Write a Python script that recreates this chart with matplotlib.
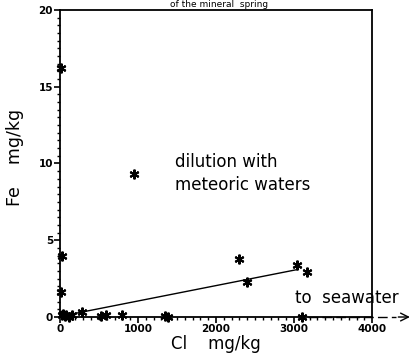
import numpy as np
import matplotlib.pyplot as plt
from matplotlib.ticker import MultipleLocator

# Cl (mg/kg) and Fe (mg/kg) samples
cl = [10, 30, 15, 950, 2300, 3040, 3170, 2400,
      25, 45, 60, 80, 120, 150, 280, 530, 590, 800, 1350, 1380, 3100]
fe = [16.2, 4.0, 1.6, 9.3, 3.8, 3.4, 2.9, 2.3,
      0.1, 0.2, 0.05, 0.15, 0.0, 0.1, 0.3, 0.05, 0.1, 0.1, 0.05, 0.0, 0.0]

# mixing line
line_cl = [60, 3050]
line_fe = [0.1, 3.1]

# dashed trend towards seawater
sea_cl = [3180, 4300]
sea_fe = [0.0, 0.0]

plt.rcParams['font.family'] = ['DejaVu Sans']

fig = plt.figure(figsize=(4.13, 3.55), dpi=100)
ax = fig.add_axes([0.145, 0.107, 0.756, 0.865])

ax.plot(cl, fe, linestyle='none', marker=(6, 2, 0), color='black',
        markersize=7, markeredgewidth=1.5, clip_on=False, zorder=3)
ax.plot(line_cl, line_fe, color='black', linewidth=1.0)
ax.plot(sea_cl, sea_fe, color='black', linewidth=1.0, linestyle=(0, (7, 3)),
        clip_on=False)
ax.annotate('', xy=(4520, 0), xytext=(4300, 0),
            arrowprops=dict(arrowstyle='->', color='black', lw=1.0,
                            mutation_scale=14),
            annotation_clip=False)

ax.set_xlim(0, 4000)
ax.set_ylim(0, 20)
ax.xaxis.set_major_locator(MultipleLocator(1000))
ax.xaxis.set_minor_locator(MultipleLocator(100))
ax.yaxis.set_major_locator(MultipleLocator(5))
ax.yaxis.set_minor_locator(MultipleLocator(0.5))
ax.tick_params(which='major', direction='out', length=4, width=1.2,
               labelsize=7.5, pad=1)
ax.tick_params(which='minor', direction='out', length=2.5, width=1.0)
for lab in ax.get_xticklabels() + ax.get_yticklabels():
    lab.set_fontweight('bold')
for s in ax.spines.values():
    s.set_linewidth(1.3)

ax.set_xlabel('Cl    mg/kg', fontsize=12, labelpad=1)
ax.set_ylabel('Fe    mg/kg', fontsize=12.5)
ax.yaxis.set_label_coords(-0.115, 0.52)

ax.text(1470, 10.1, 'dilution with', fontsize=12, va='center')
ax.text(1470, 8.6, 'meteoric waters', fontsize=12, va='center')
ax.text(3010, 1.25, 'to  seawater', fontsize=12, va='center', clip_on=False)
fig.text(0.53, 0.999, 'of the mineral  spring', fontsize=6.5, ha='center',
         va='top')

fig.savefig('out.png', dpi=100)
